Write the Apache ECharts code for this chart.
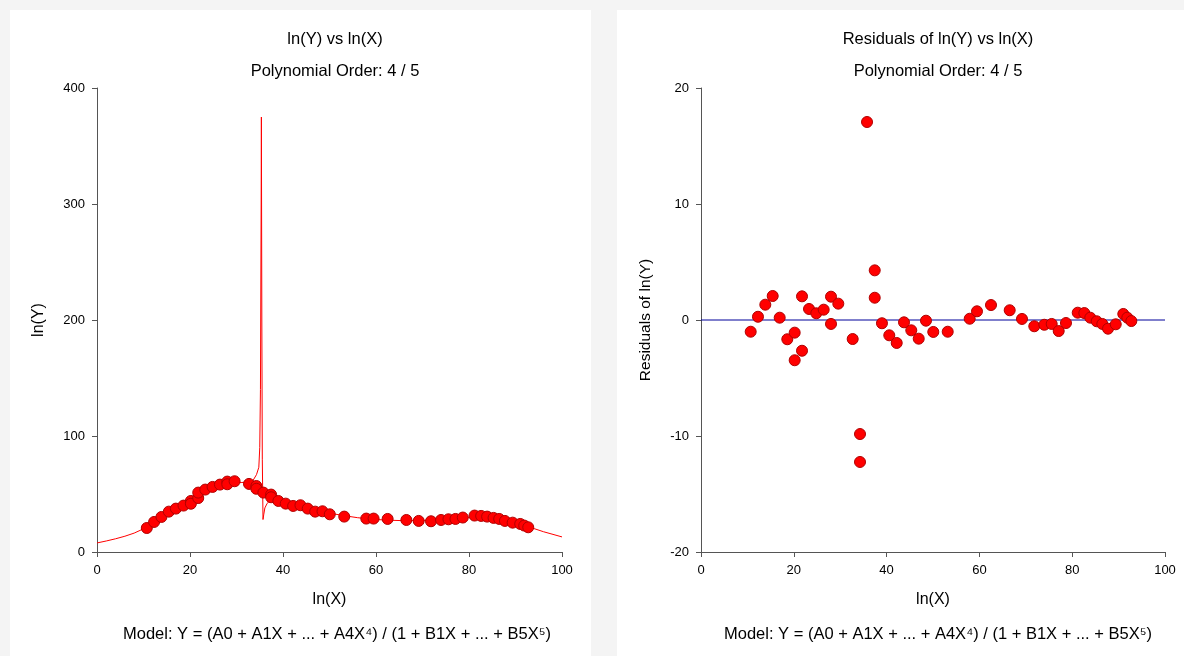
<!DOCTYPE html>
<html>
<head>
<meta charset="utf-8">
<script src="https://cdn.jsdelivr.net/npm/echarts@6/dist/echarts.min.js"></script>
<style>
  html, body { margin: 0; padding: 0; background: #f4f4f4; }
  #main { width: 1184px; height: 656px; }
</style>
</head>
<body>
<div id="main"></div>
<script>
// observed points: ln(X), ln(Y) and residuals of the fit
var xVals = [10.71, 12.28, 13.86, 15.45, 16.96, 18.60, 20.19, 20.19, 21.77, 21.77,
  23.28, 24.85, 26.44, 28.02, 28.02, 29.59, 32.69, 34.27, 34.27, 35.78,
  37.44, 37.44, 39.00, 40.58, 42.18, 43.75, 45.32, 46.92, 48.49, 50.06,
  53.17, 57.91, 59.48, 62.50, 66.53, 69.18, 71.83, 73.99, 75.58, 77.09,
  78.66, 81.19, 82.61, 83.90, 85.28, 86.49, 87.72, 89.38, 91.01, 91.88, 92.74];
var yVals = [20.7, 25.9, 30.2, 34.8, 37.4, 40.0, 44.0, 41.6, 46.5, 51.2,
  53.8, 56.1, 58.1, 60.7, 58.4, 61.0, 58.7, 56.9, 54.5, 51.2,
  49.5, 47.2, 44.0, 41.7, 39.7, 40.3, 37.4, 34.8, 35.1, 32.5,
  30.5, 28.8, 28.8, 28.5, 27.6, 26.8, 26.5, 27.6, 28.2, 28.5,
  29.7, 31.4, 31.1, 30.5, 29.4, 28.5, 26.8, 25.3, 24.2, 22.8, 21.3];
var residuals = [-1.01, 0.28, 1.32, 2.07, 0.20, -1.66, -1.09, -3.47, -2.65, 2.04,
  0.95, 0.58, 0.89, 2.01, -0.34, 1.41, -1.64, -9.83, -12.24, 17.07,
  4.28, 1.92, -0.28, -1.32, -1.98, -0.20, -0.89, -1.61, -0.06, -1.03,
  -1.01, 0.11, 0.75, 1.29, 0.84, 0.09, -0.54, -0.41, -0.34, -0.95,
  -0.26, 0.63, 0.60, 0.20, -0.11, -0.34, -0.75, -0.37, 0.52, 0.20, -0.09];

// fitted rational curve
var curveX = [0, 2, 4, 6, 8, 10, 10.7, 12.3, 13.9, 15.5, 17, 18.6, 20.2, 21.8, 23.3,
  24.9, 26.4, 28, 29.6, 31, 32.7, 33.6, 34.3, 34.8, 35.0, 35.15, 35.3, 35.35,
  35.45, 35.55, 35.7, 35.85, 36.1, 36.6, 37.4, 39, 40.6, 42.2, 43.8, 45.3, 46.9,
  48.5, 50, 53, 56, 58, 62, 66, 70, 74, 78, 81, 83, 85, 87, 89, 91, 93, 96, 100];
var curveY = [7.8, 9.5, 11.4, 13.6, 16.3, 20.0, 21.5, 25.6, 28.9, 32.9, 37.0, 41.5, 45.1, 49.2, 52.9,
  55.5, 57.2, 58.7, 59.6, 59.9, 60.3, 62.0, 66.7, 73.0, 90, 140, 300, 375,
  200, 80, 28, 32, 38, 42, 45.2, 44.3, 43.0, 41.7, 40.3, 38.4, 36.4,
  35.0, 33.5, 31.4, 29.6, 28.7, 27.5, 27.0, 27.2, 27.9, 29.2, 30.2, 30.5, 30.0, 28.9, 27.0, 24.5, 21.5, 17.5, 13.0];

var zeroX = [0, 100];
var zeroY = [0, 0];

function pairs(a, b) {
  var out = [];
  for (var i = 0; i < a.length; i++) out.push([a[i], b[i]]);
  return out;
}

var font = 'Liberation Sans, Arial, sans-serif';
var axisCol = '#555';
var titleSize = 16.5;

function xAxisCfg(gridIndex) {
  return {
    gridIndex: gridIndex, type: 'value', min: 0, max: 100, interval: 20,
    name: 'ln(X)', nameLocation: 'middle', nameGap: 40,
    nameTextStyle: { color: '#000', fontSize: 16, fontFamily: font },
    axisLine: { onZero: false, lineStyle: { color: axisCol } },
    axisTick: { length: 5, lineStyle: { color: axisCol } },
    axisLabel: { color: '#000', fontSize: 13, fontFamily: font, margin: 12 },
    splitLine: { show: false }
  };
}

function titleCfg(text, x, y) {
  return { text: text, left: x, top: y, textAlign: 'center',
    textStyle: { fontSize: titleSize, fontWeight: 'normal', color: '#000', fontFamily: font } };
}

var pointStyle = { color: '#ff0000', borderColor: '#b00000', borderWidth: 1, opacity: 1 };
var model = 'Model: Y = (A0 + A1X + ... + A4X\u2074) / (1 + B1X + ... + B5X\u2075)';

var dom = document.getElementById('main');
var myChart = echarts.init(dom);
option = {
  backgroundColor: '#f4f4f4',
  animation: false,
  graphic: [
    { type: 'rect', shape: { x: 10, y: 10, width: 581, height: 660 }, style: { fill: '#fff' }, z: -10 },
    { type: 'rect', shape: { x: 617, y: 10, width: 580, height: 660 }, style: { fill: '#fff' }, z: -10 }
  ],
  title: [
    titleCfg('ln(Y) vs ln(X)', 330, 26),
    titleCfg('Polynomial Order: 4 / 5', 330, 58),
    titleCfg(model, 332, 621),
    titleCfg('Residuals of ln(Y) vs ln(X)', 933, 26),
    titleCfg('Polynomial Order: 4 / 5', 933, 58),
    titleCfg(model, 933, 621)
  ],
  grid: [
    { left: 97, top: 88, width: 465, height: 464 },
    { left: 701, top: 88, width: 464, height: 464 }
  ],
  xAxis: [xAxisCfg(0), xAxisCfg(1)],
  yAxis: [
    {
      gridIndex: 0, type: 'value', min: 0, max: 400, interval: 100,
      name: 'ln(Y)', nameLocation: 'middle', nameGap: 50,
      nameTextStyle: { color: '#000', fontSize: 16, fontFamily: font },
      axisLine: { show: true, lineStyle: { color: axisCol } },
      axisTick: { show: true, length: 5, lineStyle: { color: axisCol } },
      axisLabel: { color: '#000', fontSize: 13, fontFamily: font, margin: 12 },
      splitLine: { show: false }
    },
    {
      gridIndex: 1, type: 'value', min: -20, max: 20, interval: 10,
      name: 'Residuals of ln(Y)', nameLocation: 'middle', nameGap: 47,
      nameTextStyle: { color: '#000', fontSize: 15.5, fontFamily: font },
      axisLine: { show: true, onZero: false, lineStyle: { color: axisCol } },
      axisTick: { show: true, length: 5, lineStyle: { color: axisCol } },
      axisLabel: { color: '#000', fontSize: 13, fontFamily: font, margin: 12 },
      splitLine: { show: false }
    }
  ],
  series: [
    {
      name: 'fit', type: 'line', xAxisIndex: 0, yAxisIndex: 0,
      data: pairs(curveX, curveY), showSymbol: false, smooth: false,
      lineStyle: { color: '#ff0000', width: 1 }, z: 2
    },
    {
      name: 'ln(Y)', type: 'scatter', xAxisIndex: 0, yAxisIndex: 0,
      data: pairs(xVals, yVals), symbolSize: 11, itemStyle: pointStyle, z: 3
    },
    {
      name: 'zero', type: 'line', xAxisIndex: 1, yAxisIndex: 1,
      data: pairs(zeroX, zeroY), showSymbol: false,
      lineStyle: { color: '#00009a', width: 1 }, z: 2
    },
    {
      name: 'residuals', type: 'scatter', xAxisIndex: 1, yAxisIndex: 1,
      data: pairs(xVals, residuals), symbolSize: 11, itemStyle: pointStyle, z: 3
    }
  ]
};
myChart.setOption(option);
</script>
</body>
</html>
